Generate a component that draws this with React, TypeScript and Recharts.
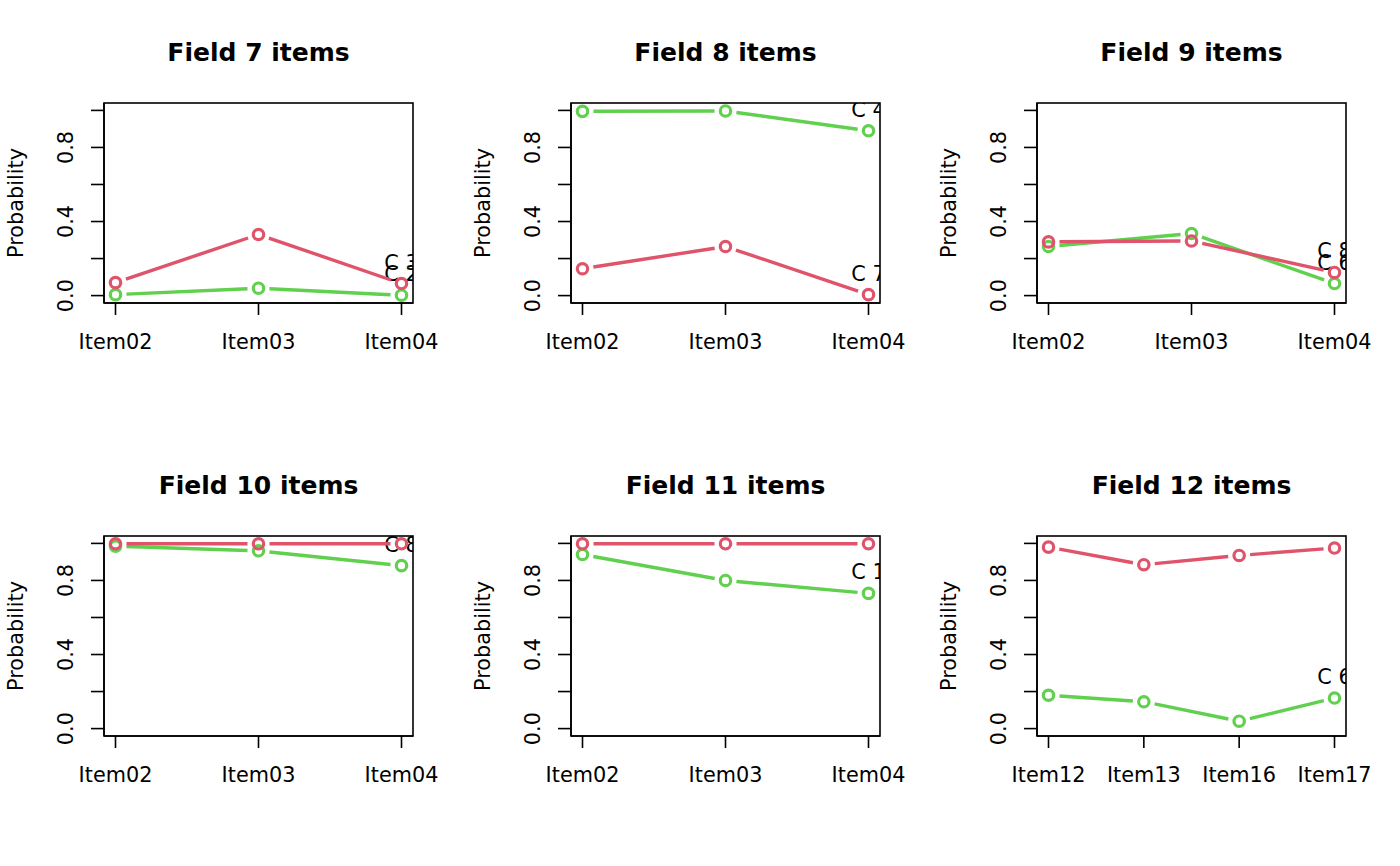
import React from "react";
import { LineChart, Line, XAxis, YAxis } from "recharts";

// items on the x axis
const itemsA = ["Item02", "Item03", "Item04"];
const itemsB = ["Item12", "Item13", "Item16", "Item17"];

// probabilities per field (red = first class, green = second class)
const field7Red = [0.07, 0.33, 0.065];
const field7Green = [0.005, 0.04, 0.002];
const field8Red = [0.145, 0.265, 0.005];
const field8Green = [0.995, 0.997, 0.89];
const field9Red = [0.29, 0.295, 0.125];
const field9Green = [0.265, 0.335, 0.065];
const field10Red = [0.998, 0.998, 0.998];
const field10Green = [0.985, 0.96, 0.88];
const field11Red = [0.998, 0.998, 0.998];
const field11Green = [0.94, 0.8, 0.73];
const field12Red = [0.98, 0.885, 0.935, 0.975];
const field12Green = [0.18, 0.145, 0.04, 0.165];

const titles = ["Field 7 items", "Field 8 items", "Field 9 items", "Field 10 items", "Field 11 items", "Field 12 items"];
const redLabels = ["C 3", "C 7", "C 8", "C 5", "C 2", "C 4"];
const greenLabels = ["C 2", "C 4", "C 6", "C 8", "C 1", "C 6"];
const yTicks = [0, 0.2, 0.4, 0.6, 0.8, 1.0];
const yLabelled = [0, 0.4, 0.8];

const RED = "#DF536B";
const GREEN = "#61D04F";
const FONT = "DejaVu Sans";
const FS = 20.8;

const W = 467;
const H = 433;
const PL = 104;
const PT = 103;
const PW = 309;
const PH = 200;

const panels = [
  { items: itemsA, red: field7Red, green: field7Green },
  { items: itemsA, red: field8Red, green: field8Green },
  { items: itemsA, red: field9Red, green: field9Green },
  { items: itemsA, red: field10Red, green: field10Green },
  { items: itemsA, red: field11Red, green: field11Green },
  { items: itemsB, red: field12Red, green: field12Green },
];

function renderDot(p: any, color: string, clipId: string, label: string) {
  const { cx, cy, index, points } = p;
  const gap = 11;
  let seg = null;
  if (points && index < points.length - 1) {
    const n = points[index + 1];
    const dx = n.x - cx;
    const dy = n.y - cy;
    const d = Math.sqrt(dx * dx + dy * dy);
    if (d > gap * 2) {
      const ux = dx / d;
      const uy = dy / d;
      seg = (
        <line
          x1={cx + ux * gap}
          y1={cy + uy * gap}
          x2={n.x - ux * gap}
          y2={n.y - uy * gap}
          stroke={color}
          strokeWidth={3.4}
        />
      );
    }
  }
  const isLast = points && index === points.length - 1;
  return (
    <g key={`d-${index}`}>
      {seg}
      <circle cx={cx} cy={cy} r={5.2} fill="none" stroke={color} strokeWidth={3.2} />
      {isLast && (
        <text
          x={cx}
          y={cy - 14}
          textAnchor="middle"
          fontFamily={FONT}
          fontSize={FS}
          fill="#000"
          clipPath={`url(#${clipId})`}
        >
          {label}
        </text>
      )}
    </g>
  );
}

function Panel({ idx }: { idx: number }) {
  const pnl = panels[idx];
  const data = pnl.items.map((it, i) => ({ item: it, r: pnl.red[i], g: pnl.green[i] }));
  const clipId = `plotclip${idx}`;
  const col = idx % 3;
  const row = Math.floor(idx / 3);
  return (
    <div style={{ position: "absolute", left: Math.round(col * 466.67), top: row * 433, width: W, height: H }}>
      <svg width={0} height={0} style={{ position: "absolute" }}>
        <defs>
          <clipPath id={clipId}>
            <rect x={PL} y={PT} width={PW} height={PH} />
          </clipPath>
        </defs>
      </svg>
      <LineChart width={W} height={H} data={data} margin={{ top: PT, left: 0, right: W - PL - PW, bottom: 80 }}>
        <XAxis
          dataKey="item"
          type="category"
          padding={{ left: 11.5, right: 11.5 }}
          height={H - PT - PH - 80}
          axisLine={{ stroke: "#000", strokeWidth: 1.6 }}
          tickLine={{ stroke: "#000", strokeWidth: 1.6 }}
          tickSize={12}
          interval={0}
          tick={(t: any) => (
            <text x={t.x} y={PT + PH + 46} textAnchor="middle" fontFamily={FONT} fontSize={FS} fill="#000">
              {t.payload.value}
            </text>
          )}
        />
        <YAxis
          width={PL}
          domain={[-0.04, 1.04]}
          ticks={yTicks}
          interval={0}
          axisLine={{ stroke: "#000", strokeWidth: 1.6 }}
          tickLine={{ stroke: "#000", strokeWidth: 1.6 }}
          tickSize={13}
          tick={(t: any) => {
            const v = t.payload.value;
            if (!yLabelled.some((l) => Math.abs(l - v) < 1e-9)) return <g />;
            return (
              <text
                x={73}
                y={t.y}
                transform={`rotate(-90 73 ${t.y})`}
                textAnchor="middle"
                fontFamily={FONT}
                fontSize={FS}
                fill="#000"
              >
                {v.toFixed(1)}
              </text>
            );
          }}
          label={{
            content: () => (
              <text
                x={23}
                y={PT + PH / 2}
                transform={`rotate(-90 23 ${PT + PH / 2})`}
                textAnchor="middle"
                fontFamily={FONT}
                fontSize={FS}
                fill="#000"
              >
                Probability
              </text>
            ),
          }}
        />
        <Line
          dataKey="g"
          stroke="none"
          isAnimationActive={false}
          dot={(p: any) => renderDot(p, GREEN, clipId, greenLabels[idx])}
          activeDot={false}
        />
        <Line
          dataKey="r"
          stroke="none"
          isAnimationActive={false}
          dot={(p: any) => renderDot(p, RED, clipId, redLabels[idx])}
          activeDot={false}
        />
      </LineChart>
      <svg
        width={W}
        height={H}
        style={{ position: "absolute", left: 0, top: 0, pointerEvents: "none" }}
      >
        <rect x={PL} y={PT} width={PW} height={PH} fill="none" stroke="#000" strokeWidth={1.6} />
        <text
          x={PL + PW / 2}
          y={61}
          textAnchor="middle"
          fontFamily={FONT}
          fontWeight="bold"
          fontSize={25}
          fill="#000"
        >
          {titles[idx]}
        </text>
      </svg>
    </div>
  );
}

export default function App() {
  return (
    <div
      style={{
        position: "absolute",
        left: 0,
        top: 0,
        width: 1400,
        height: 866,
        background: "#fff",
        overflow: "hidden",
      }}
    >
      {panels.map((_, i) => (
        <Panel key={i} idx={i} />
      ))}
    </div>
  );
}
